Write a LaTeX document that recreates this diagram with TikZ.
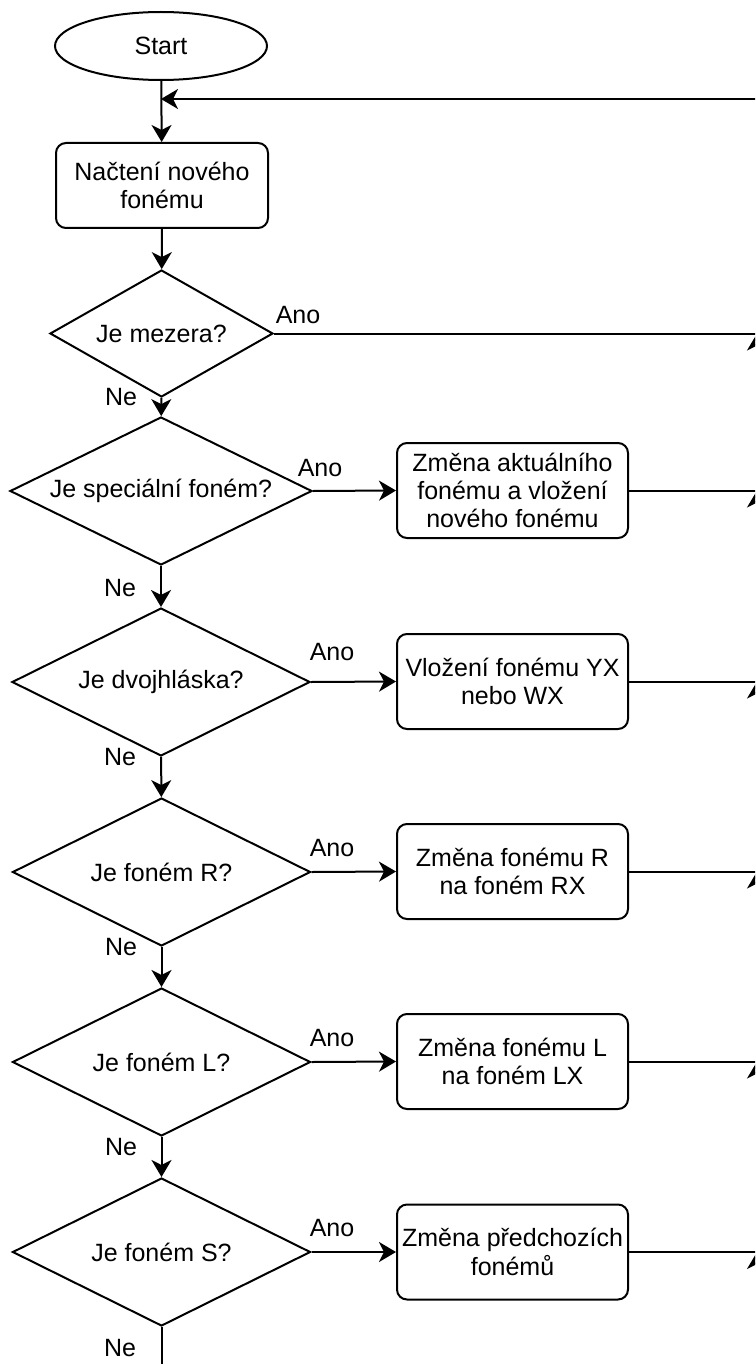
\documentclass[tikz,border=0pt]{standalone}
\usepackage{fontspec}
\setmainfont{Liberation Sans}
\usetikzlibrary{shapes.geometric,arrows.meta}

\begin{document}
\begin{tikzpicture}[x=0.5pt,y=-0.5pt,line width=1pt,
  every node/.style={font=\fontsize{12.5}{14.2}\selectfont},
  tip/.style={-{Stealth[length=8.5pt,width=10pt,inset=2.5pt]}},
  startnode/.style={draw,ellipse,inner sep=0pt,minimum width=106pt,minimum height=34pt},
  procbox/.style={draw,rectangle,rounded corners=5pt,align=center,inner sep=0pt,minimum width=115.5pt,minimum height=47.5pt},
  decide/.style={draw,diamond,shape aspect=2,inner sep=0pt,minimum width=149pt,minimum height=74pt}]
\useasboundingbox (0,0) rectangle (755,1364);
\clip (0,0) rectangle (755,1364);

% Start
\node[startnode] (start) at (161,46) {Start};
\node[procbox,minimum width=106pt,minimum height=42.5pt] (load) at (162,185.5) {Načtení nového\\fonému};
\coordinate (join) at (161,99);
\draw[tip] (start) -- (load);

% Decisions
\node[decide,minimum width=111.5pt,minimum height=63.5pt] (d1) at (161.5,333.5) {Je mezera?};
\node[decide,minimum width=151pt] (d2) at (161,491) {Je speciální foném?};
\node[decide] (d3) at (161,682) {Je dvojhláska?};
\node[decide] (d4) at (161.5,872) {Je foném R?};
\node[decide] (d5) at (161.5,1062) {Je foném L?};
\node[decide] (d6) at (161.5,1252) {Je foném S?};

% Actions
\node[procbox] (b2) at (512.5,490.5) {Změna aktuálního\\fonému a vložení\\nového fonému};
\node[procbox] (b3) at (512.5,681.5) {Vložení fonému YX\\nebo WX};
\node[procbox] (b4) at (512.5,871.5) {Změna fonému R\\na foném RX};
\node[procbox] (b5) at (512.5,1061.5) {Změna fonému L\\na foném LX};
\node[procbox] (b6) at (512.5,1252) {Změna předchozích\\fonémů};

% Ne arrows
\draw[tip] (load) -- (d1);
\draw[tip] (d1) -- (d2);
\draw[tip] (d2) -- (d3);
\draw[tip] (d3) -- (d4);
\draw[tip] (d4) -- (d5);
\draw[tip] (d5) -- (d6);
\coordinate (out) at (161.5,1372);
\draw (d6.south) -- (out);

% Ano arrows
\foreach \i in {2,...,6}
  \draw[tip] (d\i.east) -- (b\i.west);

% Return line on the right
\coordinate (r1) at (757,333.5);
\coordinate (r2) at (757,490.5);
\coordinate (r3) at (757,681.5);
\coordinate (r4) at (757,871.5);
\coordinate (r5) at (757,1061.5);
\coordinate (r6) at (757,1252);
\coordinate (r7) at (757,1300);
\coordinate (rtop) at (757,99);
\draw (d1.east) -- (r1);
\foreach \i in {2,...,6}
  \draw (b\i.east) -- (r\i);
\draw[tip] (r7) -- (r6);
\draw[tip] (r6) -- (r5);
\draw[tip] (r5) -- (r4);
\draw[tip] (r4) -- (r3);
\draw[tip] (r3) -- (r2);
\draw[tip] (r2) -- (r1);
\draw (r1) -- (rtop);
\draw[tip] (rtop) -- (join);

% Labels
\node (a1) at (298,315) {Ano};
\node (a2) at (320,468) {Ano};
\node (a3) at (332,652) {Ano};
\node (a4) at (332,848) {Ano};
\node (a5) at (332,1038) {Ano};
\node (a6) at (332,1228) {Ano};
\node (n1) at (121,397) {Ne};
\node (n2) at (120,588) {Ne};
\node (n3) at (120,757) {Ne};
\node (n4) at (121,947) {Ne};
\node (n5) at (121,1147) {Ne};
\node (n6) at (120,1348) {Ne};
\end{tikzpicture}
\end{document}
